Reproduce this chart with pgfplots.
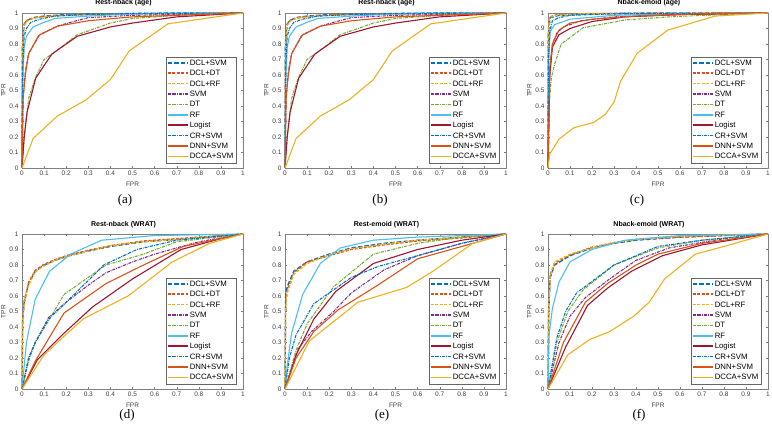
\documentclass[border=0pt]{standalone}
\usepackage{fontspec}
\setmainfont{Liberation Sans}
\newfontfamily\timesfont{Liberation Serif}
\usepackage{pgfplots}
\pgfplotsset{compat=1.18}

% MATLAB default line colours
\definecolor{mblue}{rgb}{0,0.447,0.741}
\definecolor{morange}{rgb}{0.85,0.325,0.098}
\definecolor{myellow}{rgb}{0.929,0.694,0.125}
\definecolor{mpurple}{rgb}{0.494,0.184,0.556}
\definecolor{mgreen}{rgb}{0.466,0.674,0.188}
\definecolor{mcyan}{rgb}{0.301,0.745,0.933}
\definecolor{mred}{rgb}{0.635,0.078,0.184}

\pgfplotscreateplotcyclelist{roc}{
  {draw=mblue, line width=1.4pt, dash pattern=on 4.5pt off 2pt},
  {draw=morange, line width=1.3pt, dash pattern=on 3pt off 1.6pt},
  {draw=myellow, line width=1.3pt, dash pattern=on 3pt off 1.6pt},
  {draw=mpurple, line width=1.1pt, dash pattern=on 3pt off 1pt on 0.8pt off 1pt},
  {draw=mgreen, line width=1.1pt, dash pattern=on 3pt off 1pt on 0.8pt off 1pt},
  {draw=mcyan, line width=1.1pt},
  {draw=mred, line width=1.1pt},
  {draw=mblue, line width=1.1pt, dash pattern=on 3pt off 1pt on 0.8pt off 1pt},
  {draw=morange, line width=1.1pt},
  {draw=myellow, line width=1.1pt}}

\pgfplotsset{rocax/.style={
  scale only axis, width=221pt, height=155pt,
  xmin=0, xmax=1, ymin=0, ymax=1, clip=false,
  cycle list name=roc, no markers,
  xtick={0,0.1,0.2,0.3,0.4,0.5,0.6,0.7,0.8,0.9,1},
  ytick={0,0.1,0.2,0.3,0.4,0.5,0.6,0.7,0.8,0.9,1},
  tick align=inside, tick pos=both, major tick length=2pt,
  axis line style={black!50, line width=0.4pt},
  every tick/.style={black!50, line width=0.4pt},
  /pgf/number format/assume math mode=true,
  tick label style={font=\fontsize{6.5}{7}\selectfont, text=black!75},
  xticklabel style={yshift=1pt},
  xlabel={FPR}, ylabel={TPR},
  label style={font=\fontsize{6.5}{7}\selectfont, text=black!75},
  xlabel style={yshift=0pt},
  ylabel style={yshift=-3pt},
  title style={font=\bfseries\fontsize{7}{8}\selectfont, xshift=-9pt, yshift=-3pt},
  legend image code/.code={\draw[##1, line width=1.6pt] (0pt,0.3pt) -- (20pt,0.3pt);},
  legend style={at={(rel axis cs:0.968,0.032)}, anchor=south east,
    font=\fontsize{7.8}{8}\selectfont, draw=black!60, fill=white,
    inner sep=1pt, row sep=0pt,
    nodes={text height=6pt, text depth=1.6pt, inner sep=1.4pt}},
  legend cell align=left,
  legend entries={DCL+SVM,DCL+DT,DCL+RF,SVM,DT,RF,Logist,CR+SVM,DNN+SVM,DCCA+SVM},
}}

% panels (a) and (b) show the same curves
\newcommand\restnbackage{
\addplot coordinates {(0,0)(0.002,0.78)(0.008,0.92)(0.02,0.95)(0.05,0.97)(0.1,0.98)(0.2,0.99)(0.4,0.995)(0.7,1)(1,1)};
\addplot coordinates {(0,0)(0.003,0.8)(0.01,0.93)(0.025,0.955)(0.06,0.97)(0.12,0.98)(0.25,0.99)(0.5,0.995)(1,1)};
\addplot coordinates {(0,0)(0.002,0.76)(0.008,0.91)(0.02,0.945)(0.05,0.965)(0.1,0.975)(0.2,0.985)(0.4,0.993)(1,1)};
\addplot coordinates {(0,0)(0.005,0.45)(0.015,0.62)(0.03,0.74)(0.08,0.86)(0.16,0.915)(0.22,0.94)(0.3,0.97)(0.5,0.985)(0.7,0.99)(1,1)};
\addplot coordinates {(0,0)(0.01,0.2)(0.03,0.45)(0.06,0.58)(0.1,0.7)(0.16,0.76)(0.25,0.86)(0.4,0.935)(0.5,0.965)(0.7,0.985)(1,1)};
\addplot coordinates {(0,0)(0.003,0.55)(0.01,0.78)(0.02,0.85)(0.05,0.91)(0.1,0.94)(0.15,0.965)(0.3,0.98)(0.5,0.995)(1,1)};
\addplot coordinates {(0,0)(0.01,0.2)(0.023,0.36)(0.062,0.58)(0.135,0.735)(0.25,0.85)(0.4,0.91)(0.5,0.935)(0.7,0.975)(1,1)};
\addplot coordinates {(0,0)(0.003,0.65)(0.01,0.85)(0.02,0.9)(0.04,0.94)(0.08,0.96)(0.15,0.98)(0.3,0.99)(0.5,0.997)(1,1)};
\addplot coordinates {(0,0)(0.005,0.45)(0.015,0.6)(0.03,0.735)(0.075,0.855)(0.16,0.915)(0.3,0.95)(0.5,0.975)(0.7,0.985)(1,1)};
\addplot coordinates {(0,0)(0.05,0.19)(0.16,0.335)(0.29,0.44)(0.4,0.57)(0.485,0.755)(0.66,0.93)(1,1)};
}

\begin{document}
\begin{tikzpicture}
\path[use as bounding box] (0pt,0pt) rectangle (772pt,429pt);

% (a)
\begin{axis}[rocax, at={(22pt,261pt)}, anchor=south west, title={Rest-nback (age)}]
\restnbackage
\end{axis}

% (b)
\begin{axis}[rocax, at={(285pt,261pt)}, anchor=south west, title={Rest-nback (age)}]
\restnbackage
\end{axis}

% (c)
\begin{axis}[rocax, at={(548pt,261pt)}, anchor=south west, width=220pt, title={Nback-emoid (age)}]
\addplot coordinates {(0,0)(0.002,0.88)(0.01,0.97)(0.05,0.985)(0.2,0.995)(0.5,1)(1,1)};
\addplot coordinates {(0,0)(0.002,0.9)(0.008,0.975)(0.04,0.99)(0.2,0.997)(1,1)};
\addplot coordinates {(0,0)(0.001,0.85)(0.006,0.97)(0.03,0.985)(0.15,0.995)(1,1)};
\addplot coordinates {(0,0)(0.008,0.6)(0.02,0.8)(0.04,0.87)(0.07,0.91)(0.15,0.95)(0.3,0.975)(0.6,0.99)(1,1)};
\addplot coordinates {(0,0)(0.005,0.4)(0.015,0.58)(0.03,0.67)(0.06,0.8)(0.16,0.905)(0.35,0.955)(0.55,0.975)(0.8,0.99)(1,1)};
\addplot coordinates {(0,0)(0.003,0.7)(0.01,0.88)(0.03,0.925)(0.1,0.96)(0.3,0.985)(0.6,0.995)(1,1)};
\addplot coordinates {(0,0)(0.008,0.6)(0.02,0.78)(0.05,0.86)(0.1,0.9)(0.2,0.945)(0.35,0.975)(0.6,0.99)(1,1)};
\addplot coordinates {(0,0)(0.002,0.7)(0.008,0.88)(0.02,0.95)(0.05,0.97)(0.1,0.985)(0.3,0.995)(1,1)};
\addplot coordinates {(0,0)(0.008,0.65)(0.02,0.8)(0.05,0.89)(0.1,0.935)(0.2,0.96)(0.4,0.98)(0.7,0.995)(1,1)};
\addplot coordinates {(0,0)(0.008,0.09)(0.05,0.186)(0.118,0.26)(0.208,0.294)(0.26,0.345)(0.3,0.425)(0.33,0.56)(0.405,0.74)(0.545,0.89)(0.76,0.98)(1,1)};
\end{axis}

% (d)
\begin{axis}[rocax, at={(22pt,40pt)}, anchor=south west, title={Rest-nback (WRAT)}]
\addplot coordinates {(0,0)(0.003,0.45)(0.01,0.56)(0.03,0.68)(0.06,0.76)(0.1,0.8)(0.15,0.83)(0.2,0.855)(0.3,0.89)(0.4,0.92)(0.55,0.95)(0.75,0.97)(1,1)};
\addplot coordinates {(0,0)(0.003,0.44)(0.01,0.57)(0.03,0.69)(0.06,0.765)(0.1,0.805)(0.15,0.835)(0.2,0.86)(0.3,0.895)(0.4,0.925)(0.55,0.955)(0.75,0.975)(1,1)};
\addplot coordinates {(0,0)(0.002,0.42)(0.01,0.55)(0.03,0.67)(0.06,0.755)(0.1,0.795)(0.15,0.83)(0.2,0.855)(0.3,0.89)(0.4,0.925)(0.55,0.95)(0.75,0.97)(1,1)};
\addplot coordinates {(0,0)(0.03,0.2)(0.06,0.3)(0.12,0.46)(0.2,0.56)(0.3,0.67)(0.38,0.75)(0.5,0.82)(0.6,0.87)(0.8,0.95)(1,1)};
\addplot coordinates {(0,0)(0.03,0.18)(0.06,0.3)(0.12,0.44)(0.19,0.61)(0.28,0.7)(0.38,0.8)(0.55,0.87)(0.7,0.95)(1,1)};
\addplot coordinates {(0,0)(0.02,0.3)(0.06,0.58)(0.125,0.76)(0.22,0.87)(0.36,0.96)(0.6,0.99)(1,1)};
\addplot coordinates {(0,0)(0.07,0.19)(0.19,0.36)(0.32,0.53)(0.5,0.71)(0.72,0.9)(0.9,0.97)(1,1)};
\addplot coordinates {(0,0)(0.03,0.2)(0.06,0.3)(0.12,0.45)(0.2,0.56)(0.3,0.7)(0.37,0.8)(0.52,0.9)(0.7,0.96)(1,1)};
\addplot coordinates {(0,0)(0.06,0.18)(0.19,0.49)(0.38,0.68)(0.55,0.8)(0.73,0.92)(1,1)};
\addplot coordinates {(0,0)(0.1,0.22)(0.19,0.34)(0.28,0.455)(0.48,0.6)(0.68,0.82)(0.85,0.94)(1,1)};
\end{axis}

% (e)
\begin{axis}[rocax, at={(285pt,40pt)}, anchor=south west, title={Rest-emoid (WRAT)}]
\addplot coordinates {(0,0)(0.003,0.6)(0.01,0.66)(0.04,0.76)(0.1,0.82)(0.2,0.87)(0.3,0.91)(0.45,0.94)(0.6,0.96)(0.8,0.98)(1,1)};
\addplot coordinates {(0,0)(0.003,0.55)(0.01,0.64)(0.04,0.75)(0.1,0.82)(0.2,0.86)(0.3,0.9)(0.45,0.93)(0.6,0.955)(0.8,0.975)(1,1)};
\addplot coordinates {(0,0)(0.002,0.5)(0.01,0.62)(0.04,0.74)(0.1,0.81)(0.2,0.865)(0.3,0.905)(0.45,0.935)(0.6,0.96)(0.8,0.98)(1,1)};
\addplot coordinates {(0,0)(0.06,0.26)(0.12,0.37)(0.22,0.5)(0.3,0.62)(0.45,0.77)(0.6,0.86)(0.8,0.94)(1,1)};
\addplot coordinates {(0,0)(0.05,0.25)(0.1,0.42)(0.22,0.66)(0.4,0.87)(0.6,0.94)(0.8,0.98)(1,1)};
\addplot coordinates {(0,0)(0.01,0.15)(0.03,0.36)(0.08,0.61)(0.16,0.81)(0.25,0.91)(0.4,0.96)(0.6,0.98)(1,1)};
\addplot coordinates {(0,0)(0.05,0.22)(0.13,0.45)(0.23,0.63)(0.4,0.81)(0.6,0.9)(0.8,0.96)(1,1)};
\addplot coordinates {(0,0)(0.02,0.2)(0.05,0.35)(0.13,0.55)(0.3,0.72)(0.42,0.79)(0.6,0.86)(0.8,0.94)(1,1)};
\addplot coordinates {(0,0)(0.05,0.2)(0.13,0.37)(0.24,0.51)(0.42,0.67)(0.6,0.84)(0.8,0.92)(1,1)};
\addplot coordinates {(0,0)(0.11,0.31)(0.33,0.56)(0.55,0.655)(0.67,0.76)(0.85,0.94)(1,1)};
\end{axis}

% (f)
\begin{axis}[rocax, at={(548pt,40pt)}, anchor=south west, width=220pt, title={Nback-emoid (WRAT)}]
\addplot coordinates {(0,0)(0.003,0.5)(0.01,0.72)(0.03,0.8)(0.1,0.86)(0.2,0.91)(0.3,0.94)(0.4,0.96)(0.6,0.98)(1,1)};
\addplot coordinates {(0,0)(0.003,0.52)(0.01,0.74)(0.03,0.81)(0.1,0.865)(0.2,0.915)(0.3,0.945)(0.4,0.965)(0.6,0.98)(1,1)};
\addplot coordinates {(0,0)(0.002,0.48)(0.01,0.73)(0.03,0.82)(0.1,0.87)(0.2,0.91)(0.3,0.945)(0.4,0.965)(0.6,0.985)(1,1)};
\addplot coordinates {(0,0)(0.05,0.3)(0.1,0.47)(0.17,0.59)(0.28,0.71)(0.4,0.83)(0.55,0.91)(0.8,0.97)(1,1)};
\addplot coordinates {(0,0)(0.04,0.3)(0.09,0.5)(0.16,0.64)(0.3,0.8)(0.5,0.91)(0.7,0.96)(1,1)};
\addplot coordinates {(0,0)(0.005,0.35)(0.02,0.52)(0.05,0.69)(0.1,0.82)(0.2,0.9)(0.35,0.96)(0.6,0.99)(1,1)};
\addplot coordinates {(0,0)(0.08,0.27)(0.18,0.54)(0.27,0.65)(0.38,0.76)(0.52,0.86)(0.7,0.93)(1,1)};
\addplot coordinates {(0,0)(0.04,0.33)(0.08,0.5)(0.13,0.62)(0.3,0.8)(0.5,0.92)(0.7,0.96)(1,1)};
\addplot coordinates {(0,0)(0.07,0.3)(0.17,0.56)(0.27,0.68)(0.4,0.8)(0.5,0.87)(0.7,0.94)(1,1)};
\addplot coordinates {(0,0)(0.09,0.22)(0.19,0.32)(0.28,0.37)(0.39,0.47)(0.46,0.56)(0.53,0.71)(0.67,0.87)(0.8,0.92)(1,1)};
\end{axis}

% sub-captions
\begin{scope}[every node/.style={font=\timesfont\fontsize{13}{14}\selectfont}]
\node at (125pt,229pt) {(a)};
\node at (380pt,229pt) {(b)};
\node at (637pt,229pt) {(c)};
\node at (127pt,14pt) {(d)};
\node at (382pt,14pt) {(e)};
\node at (639pt,14pt) {(f)};
\end{scope}
\end{tikzpicture}
\end{document}
